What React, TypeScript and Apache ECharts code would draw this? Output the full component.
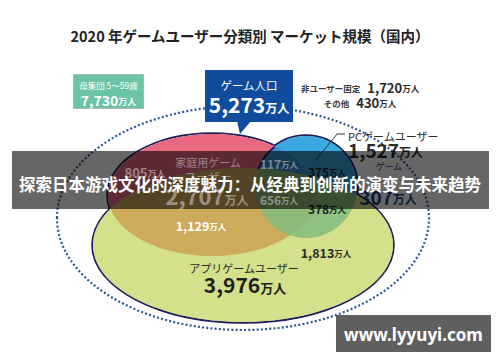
import React, { useEffect, useRef } from 'react';
import * as echarts from 'echarts';

// ---- data ----
const TITLE = '2020 年ゲームユーザー分類別 マーケット規模（国内）';
const BANNER = '探索日本游戏文化的深度魅力：从经典到创新的演变与未来趋势';
const WATERMARK = 'www.lyyuyi.com';

const setNames = ['家庭用ゲーム', 'ユーザー', 'PCゲームユーザー', 'アプリゲームユーザー'];
const setTotals = [2707, 1527, 3976];
const regionNames = ['家庭用のみ', '家庭用・PC', '全て', '家庭用・アプリ', 'PCのみ', 'PC・アプリ', 'アプリのみ'];
const regionValues = [805, 117, 656, 1129, 375, 378, 1813];
const populationLabel = '母集団 5〜59歳';
const populationValue = 7730;
const gameLabel = 'ゲーム人口';
const gameValue = 5273;
const otherLabels = ['非ユーザー固定', 'その他'];
const otherValues = [1720, 430];
const dormantLabel = 'ゲーム';
const dormantValue = 307;
const UNIT = '万人';

const FF = '"Noto Sans CJK JP", "Noto Sans", sans-serif';
const fmt = (v: number) => v.toLocaleString('en-US');

function txt(x: number, y: number, text: string, size: number, fill: string, z: number, weight: string = 'normal', align: string = 'center', family: string = FF) {
  return {
    type: 'text', x, y, z, silent: true,
    style: { text, fontSize: size, fontFamily: family, fontWeight: weight, fill, align, verticalAlign: 'middle' },
  };
}

function num(x: number, y: number, v: number, big: number, small: number, fill: string, z: number, align: string = 'center') {
  return {
    type: 'text', x, y, z, silent: true,
    style: {
      text: `{n|${fmt(v)}}{u|${UNIT}}`,
      fontFamily: FF, fill, align, verticalAlign: 'middle',
      rich: {
        n: { fontSize: big, fontWeight: 'bold', fontFamily: FF, fill, verticalAlign: 'bottom' },
        u: { fontSize: small, fontWeight: 'bold', fontFamily: FF, fill, verticalAlign: 'bottom', padding: [0, 0, 1, 0] },
      },
    },
  };
}

const PINK = { cx: 212, cy: 195, rx: 104, ry: 61 };
const BLUE = { cx: 306, cy: 187, rx: 51, ry: 51 };
const YELLOW = { cx: 243, cy: 245, rx: 150, ry: 77 };
const OUTER = { cx: 243, cy: 218, rx: 186, ry: 112 };
const NAVY = '#1e1e5a';

export default function App() {
  const ref = useRef<HTMLDivElement>(null);
  useEffect(() => {
    document.body.style.margin = '0';
    const chart = echarts.init(ref.current!, undefined, { renderer: 'svg' });
    const shapes = [PINK, BLUE, YELLOW];
    const elements: any[] = [];
    // outer dotted population ellipse
    elements.push({ type: 'ellipse', z: 1, silent: true, shape: OUTER, style: { fill: 'none', stroke: '#2a5596', lineWidth: 2.2, lineDash: [2, 2.2] } });
    // union outline
    shapes.forEach((s) => elements.push({ type: 'ellipse', z: 2, silent: true, shape: s, style: { fill: 'none', stroke: NAVY, lineWidth: 3.6 } }));
    shapes.forEach((s) => elements.push({ type: 'ellipse', z: 3, silent: true, shape: s, style: { fill: '#ffffff' } }));
    elements.push({ type: 'ellipse', z: 4, silent: true, shape: PINK, style: { fill: '#e8697f' } });
    elements.push({ type: 'ellipse', z: 5, silent: true, shape: BLUE, style: { fill: 'rgba(23,154,221,0.85)' } });
    elements.push({ type: 'arc', z: 5, silent: true, shape: { cx: BLUE.cx, cy: BLUE.cy, r: BLUE.rx, startAngle: (200 * Math.PI) / 180, endAngle: (232 * Math.PI) / 180, clockwise: true }, style: { stroke: NAVY, lineWidth: 1.8, fill: 'none' } });
    elements.push({ type: 'ellipse', z: 6, silent: true, shape: YELLOW, style: { fill: 'rgba(189,207,75,0.65)' } });

    // title
    elements.push(txt(250, 35, TITLE, 14.5, '#222222', 7, 'bold'));

    // population box
    elements.push({ type: 'rect', z: 7, silent: true, shape: { x: 73.5, y: 74.5, width: 70, height: 34 }, style: { fill: '#6cc4a6', stroke: '#b3b3b3', lineWidth: 1 } });
    elements.push(txt(108.5, 84.5, populationLabel, 8.5, '#ffffff', 8));
    elements.push(num(108.5, 100, populationValue, 14, 9, '#ffffff', 8));

    // game population callout
    elements.push({ type: 'rect', z: 7, silent: true, shape: { x: 205, y: 70, width: 88, height: 52 }, style: { fill: '#114b9e' } });
    elements.push({ type: 'polygon', z: 7, silent: true, shape: { points: [[237, 121], [251, 121], [240, 134]] }, style: { fill: '#114b9e' } });
    elements.push(txt(249, 85, gameLabel, 11.5, '#ffffff', 8));
    elements.push(num(249, 104, gameValue, 21, 12, '#ffffff', 8));

    // non-users / others
    [0, 1].forEach((i) => {
      elements.push({
        type: 'text', x: 360, y: 87 + i * 15, z: 8, silent: true,
        style: {
          text: `{l|${otherLabels[i]}}{s| }{n|${fmt(otherValues[i])}}{u|${UNIT}}`,
          fontFamily: FF, fill: '#333', align: 'center', verticalAlign: 'middle',
          rich: {
            l: { fontSize: 8.5, fontFamily: FF, fontWeight: 'bold', fill: '#3a3a3a', verticalAlign: 'bottom', padding: [0, 0, 1, 0] },
            s: { fontSize: 8, width: 7 },
            n: { fontSize: 13, fontFamily: FF, fontWeight: 'bold', fill: '#2a2a2a', verticalAlign: 'bottom' },
            u: { fontSize: 8.5, fontFamily: FF, fontWeight: 'bold', fill: '#2a2a2a', verticalAlign: 'bottom', padding: [0, 0, 1, 0] },
          },
        },
      });
    });

    // PC label and leader line
    elements.push(txt(348, 136, setNames[2], 11, '#2a2a2a', 8, 'normal', 'left'));
    elements.push(num(348, 149, setTotals[1], 19, 12, '#2a2a2a', 8, 'left'));
    elements.push({ type: 'polyline', z: 8, silent: true, shape: { points: [[345, 134], [337, 134], [315, 161]] }, style: { stroke: '#333', lineWidth: 1, fill: 'none' } });

    // region values (dark ones under the banner)
    elements.push(num(327, 171, regionValues[4], 12, 8.5, '#1f1f1f', 8));
    elements.push(num(327, 208, regionValues[5], 12, 8.5, '#1f1f1f', 8));
    elements.push(txt(389, 166, dormantLabel, 9, '#1b3f80', 8));
    elements.push(num(388, 196, dormantValue, 19, 12, '#1b3f80', 8));
    elements.push(num(201, 225, regionValues[3], 12.5, 8.5, '#ffffff', 8));
    elements.push(num(326, 252, regionValues[6], 12.5, 8.5, '#2a2a2a', 8));
    elements.push(txt(244, 268, setNames[3], 11, '#2a2a2a', 8));
    elements.push(num(245, 284, setTotals[2], 21, 13, '#1f1f1f', 8));

    // banner overlay
    elements.push({ type: 'rect', z: 9, silent: true, shape: { x: 12, y: 151, width: 477, height: 58 }, style: { fill: 'rgba(0,0,0,0.6)' } });
    // faint white labels seen through the banner
    const faint = 'rgba(255,240,240,0.45)';
    elements.push(txt(208, 162, setNames[0], 11, faint, 10));
    elements.push(txt(208, 176, setNames[1], 12, faint, 10));
    elements.push(num(207, 195, setTotals[0], 22, 12, faint, 10));
    elements.push(num(145, 172, regionValues[0], 13, 9, faint, 10));
    elements.push(num(279, 163, regionValues[1], 12, 8.5, faint, 10));
    elements.push(num(279, 199, regionValues[2], 12, 8.5, faint, 10));
    elements.push(txt(250, 184, BANNER, 16.5, '#ffffff', 11, 'bold', 'center', '"Noto Sans CJK SC", sans-serif'));

    // watermark
    elements.push({ type: 'rect', z: 12, silent: true, shape: { x: 336, y: 315, width: 155, height: 37 }, style: { fill: '#5f5f5f' } });
    elements.push(txt(413.5, 334, WATERMARK, 17, '#ffffff', 13, 'bold', 'center', '"Noto Sans", sans-serif'));

    chart.setOption({ animation: false, backgroundColor: '#ffffff', graphic: { elements } });
    return () => chart.dispose();
  }, []);
  return <div ref={ref} style={{ width: 500, height: 362 }} />;
}
